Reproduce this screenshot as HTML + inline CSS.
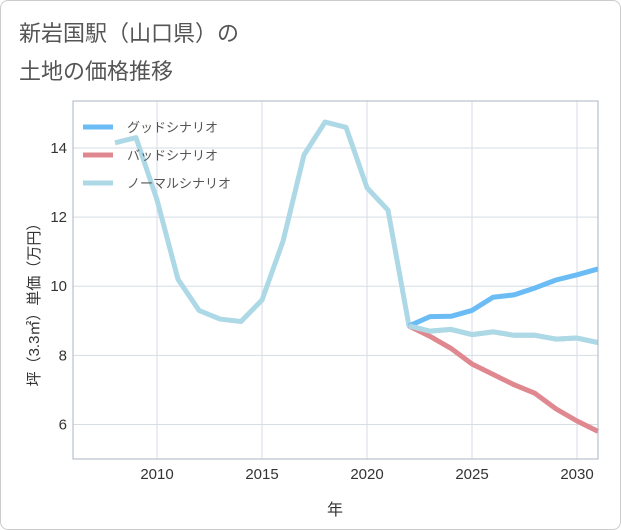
<!DOCTYPE html>
<html><head><meta charset="utf-8"><style>
body{margin:0;background:#fff;font-family:"Liberation Sans","Noto Sans CJK JP",sans-serif;}
#wrap{position:relative;width:619px;height:528px;border:1px solid #ccc;border-radius:8px;overflow:hidden;background:#fff}
</style></head><body>
<div id="wrap">
<svg id="chart" width="621" height="530">
<text x="18" y="40" font-size="22" fill="#555">新岩国駅（山口県）の</text>
<text x="18" y="78" font-size="22" fill="#555">土地の価格推移</text>
<g id="grid"></g>
<g id="lines"></g>
<rect x="72" y="100" width="525" height="358" fill="none" stroke="#aab4c0"/>
<g id="legend"></g>
<text x="334" y="514" font-size="16" fill="#333" text-anchor="middle">年</text>
<text transform="translate(38,300) rotate(-90)" font-size="15" fill="#333" text-anchor="middle">坪（3.3㎡）単価（万円）</text>
</svg></div>
<script>
const years=[2008,2009,2010,2011,2012,2013,2014,2015,2016,2017,2018,2019,2020,2021,2022,2023,2024,2025,2026,2027,2028,2029,2030,2031];
const normal=[14.15,14.3,12.5,10.2,9.3,9.05,8.98,9.6,11.3,13.8,14.75,14.6,12.85,12.2,8.85,8.7,8.75,8.6,8.68,8.58,8.58,8.47,8.5,8.37];
const futureYears=[2022,2023,2024,2025,2026,2027,2028,2029,2030,2031];
const good=[8.85,9.12,9.13,9.3,9.68,9.75,9.95,10.18,10.33,10.5];
const bad=[8.85,8.55,8.2,7.75,7.45,7.15,6.9,6.45,6.1,5.8];
const xTicks=[2010,2015,2020,2025,2030];
const yTicks=[6,8,10,12,14];
const NS="http://www.w3.org/2000/svg";
const X=v=>72+(v-2006)*21, Y=v=>458-(v-5)*(358/10.36);
const grid=document.getElementById('grid'),lines=document.getElementById('lines'),legend=document.getElementById('legend');
function mk(tag,a,p){const e=document.createElementNS(NS,tag);for(const k in a)e.setAttribute(k,a[k]);p.appendChild(e);return e;}
xTicks.forEach(t=>{
 const l=mk('line',{x1:X(t),x2:X(t),y1:100,y2:458,stroke:'#d5dde5'},grid);
 
 
 const tx=mk('text',{x:X(t),y:478,'font-size':15,fill:'#333','text-anchor':'middle'},grid);tx.textContent=t;
 
 
});
yTicks.forEach(t=>{
 const l=mk('line',{x1:72,x2:597,y1:Y(t),y2:Y(t),stroke:'#d5dde5'},grid);
 
 
 const tx=mk('text',{x:66,y:Y(t)+5,'font-size':15,fill:'#333','text-anchor':'end'},grid);tx.textContent=t;
 
 
});
function series(xs,ys,color,name){
 const p=mk('polyline',{points:xs.map((x,i)=>X(x)+','+Y(ys[i])).join(' '),fill:'none',stroke:color,'stroke-width':5,'stroke-linejoin':'round'},lines);
 
 
}
series(years,normal,'#add8e6','normal-scenario-line');
series(futureYears,bad,'#e08890','bad-scenario-line');
series(futureYears,good,'#6bbcf5','good-scenario-line');
series(years.slice(14),normal.slice(14),'#add8e6','normal-scenario-future');
[['グッドシナリオ','#6bbcf5'],['バッドシナリオ','#e08890'],['ノーマルシナリオ','#add8e6']].forEach((d,i)=>{
 const y=126+i*28;
 const l=mk('line',{x1:82,x2:112,y1:y,y2:y,stroke:d[1],'stroke-width':5},legend);
 
 
 const t=mk('text',{x:126,y:y+5,'font-size':13,fill:'#555'},legend);t.textContent=d[0];
 
 
});
</script>
</body></html>
